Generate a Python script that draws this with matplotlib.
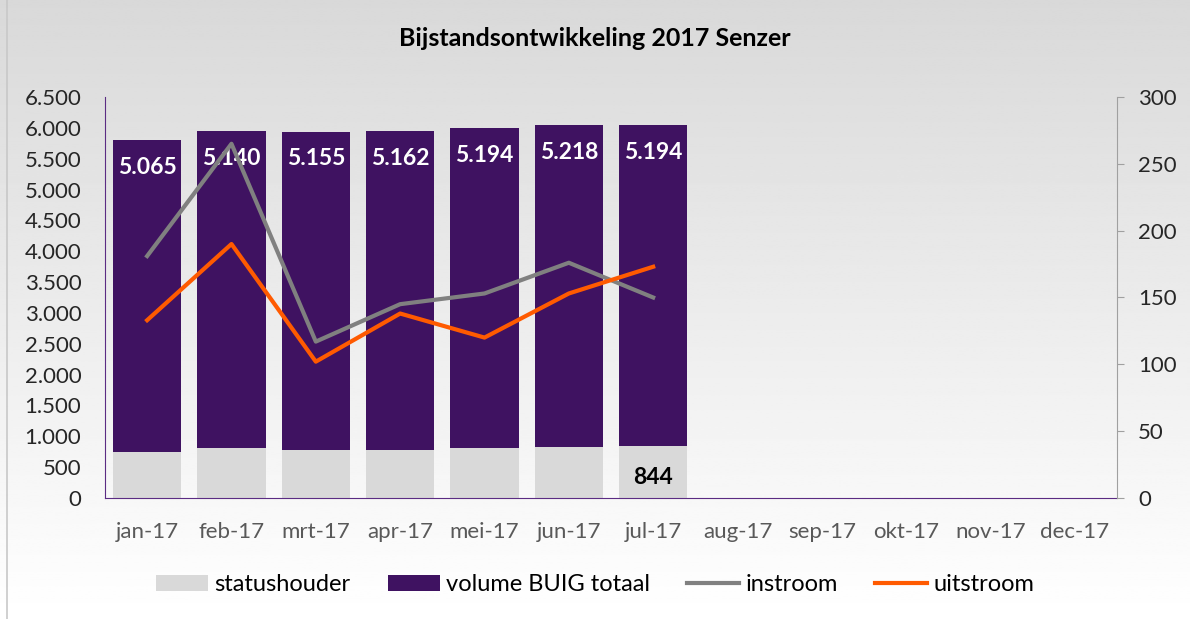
import numpy as np
import matplotlib.pyplot as plt

months = ['jan-17', 'feb-17', 'mrt-17', 'apr-17', 'mei-17', 'jun-17',
          'jul-17', 'aug-17', 'sep-17', 'okt-17', 'nov-17', 'dec-17']
statushouder = [740, 805, 785, 785, 805, 825, 844]
volume_buig = [5065, 5140, 5155, 5162, 5194, 5218, 5194]
instroom = [181, 265, 117, 145, 153, 176, 150]
uitstroom = [133, 190, 102, 138, 120, 153, 173]

plt.rcParams['font.family'] = ['Lato', 'DejaVu Sans']

fig = plt.figure(figsize=(11.9, 6.19), dpi=100)

# background gradient, grey at the top to white at the bottom
bg = fig.add_axes([0, 0, 1, 1], zorder=-10)
grad = np.linspace(0.85, 1.0, 256).reshape(-1, 1)
bg.imshow(np.repeat(grad, 2, axis=1), cmap='gray', vmin=0, vmax=1,
          aspect='auto', extent=[0, 1, 0, 1], origin='upper')
bg.plot([0.006, 0.006], [0, 1], color='#c8c8c8', lw=1.2)
bg.set_xlim(0, 1)
bg.set_ylim(0, 1)
bg.axis('off')

ax = fig.add_axes([0.0882, 0.1955, 0.8505, 0.6478])
ax.patch.set_alpha(0)
x = np.arange(len(months))
n = len(statushouder)

ax.bar(x[:n], statushouder, width=0.81, color='#d9d9d9', label='statushouder')
ax.bar(x[:n], volume_buig, width=0.81, bottom=statushouder,
       color='#3f1261', label='volume BUIG totaal')

for xi, s, v in zip(x[:n], statushouder, volume_buig):
    ax.annotate(f'{v:,}'.replace(',', '.'), (xi, s + v), xytext=(0, -12),
                textcoords='offset points', ha='center', va='top',
                color='white', fontsize=16.5, fontweight='bold')
ax.annotate(str(statushouder[-1]), (x[n - 1], 0), xytext=(0, 7),
            textcoords='offset points', ha='center', va='bottom',
            color='black', fontsize=16.5, fontweight='bold')

ax.set_xlim(-0.5, len(months) - 0.5)
ax.set_ylim(0, 6500)
ax.set_yticks(np.arange(0, 6501, 500))
ax.set_yticklabels([f'{t:,}'.replace(',', '.') for t in range(0, 6501, 500)])
ax.set_xticks(x)
ax.set_xticklabels(months)
ax.tick_params(axis='y', length=0, labelsize=16, labelcolor='#262626', pad=17)
ax.tick_params(axis='x', length=0, labelsize=16, labelcolor='#595959', pad=17)
for side in ['top', 'right']:
    ax.spines[side].set_visible(False)
ax.spines['left'].set_color('#5b2c83')
ax.spines['bottom'].set_color('#5b2c83')

ax2 = ax.twinx()
ax2.plot(x[:n], instroom, color='#808080', lw=3, label='instroom')
ax2.plot(x[:n], uitstroom, color='#ff5a00', lw=3, label='uitstroom')
ax2.set_ylim(0, 300)
ax2.set_yticks(np.arange(0, 301, 50))
ax2.tick_params(axis='y', direction='out', length=5, color='#a0a0a0',
                labelsize=16, labelcolor='#262626', pad=10)
for side in ['top', 'left', 'bottom']:
    ax2.spines[side].set_visible(False)
ax2.spines['right'].set_color('#a0a0a0')

fig.text(0.5, 0.938, 'Bijstandsontwikkeling 2017 Senzer', ha='center',
         va='center', fontsize=18, fontweight='bold', color='black')

h1, l1 = ax.get_legend_handles_labels()
h2, l2 = ax2.get_legend_handles_labels()
fig.legend(h1 + h2, l1 + l2, loc='center', bbox_to_anchor=(0.5, 0.055),
           ncol=4, frameon=False, fontsize=17, handlelength=2.2,
           columnspacing=1.6, handletextpad=0.25)

fig.savefig('out.png', dpi=100)
